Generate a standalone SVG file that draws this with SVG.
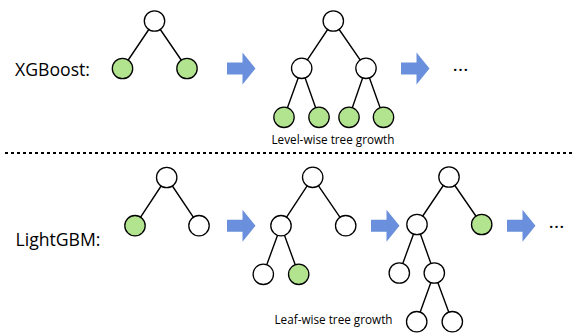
<svg xmlns="http://www.w3.org/2000/svg" width="577" height="334" viewBox="0 0 577 334">
  <style>
    .edge { stroke: #000; stroke-width: 1.4; fill: none; }
    .node { stroke: #000; stroke-width: 1.3; fill: #fff; }
    .leaf { stroke: #000; stroke-width: 1.3; fill: #b2e48f; }
    .step { fill: #6a8fdc; }
    .title { font-family: "Open Sans", "Noto Sans", sans-serif; font-size: 18px; fill: #000; }
    .caption { font-family: "Open Sans", "Noto Sans", sans-serif; font-size: 12px; fill: #000; }
    .more { font-family: "Open Sans", "Noto Sans", sans-serif; font-size: 18px; fill: #000; }
  </style>
  <defs>
    <path id="arrow" class="step" d="M0,-6 H15.5 V-16 L28.5,0 L15.5,16 V6 H0 Z"/>
  </defs>

  <rect width="577" height="334" fill="#fff"/>

  <!-- section labels -->
  <text class="title" x="15" y="76" textLength="75" lengthAdjust="spacingAndGlyphs">XGBoost:</text>
  <text class="title" x="15.5" y="246" textLength="85" lengthAdjust="spacingAndGlyphs">LightGBM:</text>

  <!-- separator -->
  <line x1="5" y1="153" x2="573" y2="153" stroke="#000" stroke-width="2" stroke-dasharray="3 3"/>

  <!-- connectors -->
  <g id="connectors">
    <!-- level-wise, step 1 -->
    <path class="edge" d="M154.5,21 L122.5,68.5 M154.5,21 L187,68.5"/>
    <!-- level-wise, step 2 -->
    <path class="edge" d="M333.3,21 L301.7,68.3 M333.3,21 L366,68.3 M301.7,68.3 L284,117.3 M301.7,68.3 L319,117.3 M366,68.3 L349,117.3 M366,68.3 L383.5,117.3"/>
    <!-- leaf-wise, step 1 -->
    <path class="edge" d="M166.7,177.5 L135,225.7 M166.7,177.5 L199,225.7"/>
    <!-- leaf-wise, step 2 -->
    <path class="edge" d="M312.7,177.3 L281,225.7 M312.7,177.3 L345.7,225.7 M281,225.7 L263.3,274.3 M281,225.7 L298.7,274.3"/>
    <!-- leaf-wise, step 3 -->
    <path class="edge" d="M449,177 L417,224.5 M449,177 L481.7,224.5 M417,224.5 L399.3,273 M417,224.5 L434.3,273 M434.3,273 L416.7,321.7 M434.3,273 L452.3,321.7"/>
    <!-- growth arrows -->
    <use href="#arrow" x="227" y="68.5"/>
    <use href="#arrow" x="401" y="68.5"/>
    <use href="#arrow" x="227" y="225.7"/>
    <use href="#arrow" x="371" y="225.7"/>
    <use href="#arrow" x="507" y="225.7"/>
  </g>

  <!-- level-wise trees -->
  <g id="xgb-tree-1">
    <circle class="node" cx="154.5" cy="21" r="10.2"/>
    <circle class="leaf" cx="122.5" cy="68.5" r="10.2"/>
    <circle class="leaf" cx="187" cy="68.5" r="10.2"/>
  </g>
  <g id="xgb-tree-2">
    <circle class="node" cx="333.3" cy="21" r="10.2"/>
    <circle class="node" cx="301.7" cy="68.3" r="10.2"/>
    <circle class="node" cx="366" cy="68.3" r="10.2"/>
    <circle class="leaf" cx="284" cy="117.3" r="10.2"/>
    <circle class="leaf" cx="319" cy="117.3" r="10.2"/>
    <circle class="leaf" cx="349" cy="117.3" r="10.2"/>
    <circle class="leaf" cx="383.5" cy="117.3" r="10.2"/>
  </g>
  <text id="xgb-caption" class="caption" x="271.5" y="144" textLength="123" lengthAdjust="spacingAndGlyphs">Level-wise tree growth</text>
  <text id="xgb-more" class="more" x="452.5" y="71" textLength="16" lengthAdjust="spacingAndGlyphs">…</text>

  <!-- leaf-wise trees -->
  <g id="lgbm-tree-1">
    <circle class="node" cx="166.7" cy="177.5" r="10.2"/>
    <circle class="leaf" cx="135" cy="225.7" r="10.2"/>
    <circle class="node" cx="199" cy="225.7" r="10.2"/>
  </g>
  <g id="lgbm-tree-2">
    <circle class="node" cx="312.7" cy="177.3" r="10.2"/>
    <circle class="node" cx="281" cy="225.7" r="10.2"/>
    <circle class="node" cx="345.7" cy="225.7" r="10.2"/>
    <circle class="node" cx="263.3" cy="274.3" r="10.2"/>
    <circle class="leaf" cx="298.7" cy="274.3" r="10.2"/>
  </g>
  <g id="lgbm-tree-3">
    <circle class="node" cx="449" cy="177" r="10.2"/>
    <circle class="node" cx="417" cy="224.5" r="10.2"/>
    <circle class="leaf" cx="481.7" cy="224.5" r="10.2"/>
    <circle class="node" cx="399.3" cy="273" r="10.2"/>
    <circle class="node" cx="434.3" cy="273" r="10.2"/>
    <circle class="node" cx="416.7" cy="321.7" r="10.2"/>
    <circle class="node" cx="452.3" cy="321.7" r="10.2"/>
  </g>
  <text id="lgbm-caption" class="caption" x="274.5" y="323.5" textLength="118" lengthAdjust="spacingAndGlyphs">Leaf-wise tree growth</text>
  <text id="lgbm-more" class="more" x="548.5" y="228" textLength="16" lengthAdjust="spacingAndGlyphs">…</text>
</svg>
